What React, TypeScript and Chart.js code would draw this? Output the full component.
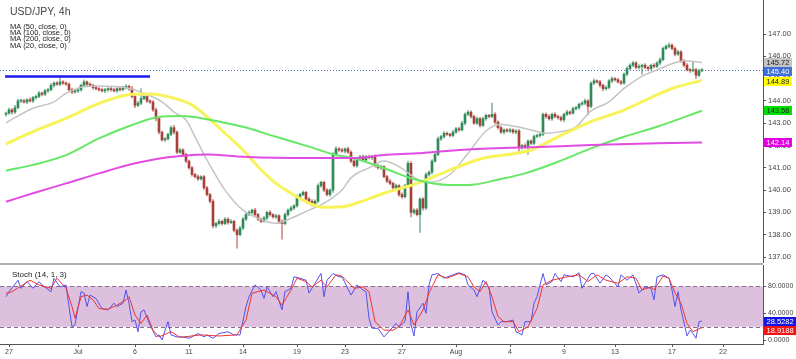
import React, { useEffect, useRef } from 'react';
import { Chart, registerables } from 'chart.js';

Chart.register(...registerables);

const FONT = '"Liberation Sans", Arial, sans-serif';

// ---------- text ----------
const titleText = 'USD/JPY, 4h';
const maLegend = ['MA (50, close, 0)', 'MA (100, close, 0)', 'MA (200, close, 0)', 'MA (20, close, 0)'];
const stochLegend = 'Stoch (14, 1, 3)';

// ---------- candles (4h), index = candle number ----------
const firstOpen = 143.4;
const closes = [
  143.45, 143.6, 143.5, 143.7, 144.0, 144.0, 143.95, 144.05, 144.0, 144.15,
  144.2, 144.35, 144.3, 144.45, 144.5, 144.7, 144.8, 144.75, 144.85, 144.8,
  144.75, 144.5, 144.4, 144.45, 144.5, 144.7, 144.85, 144.75, 144.7, 144.6,
  144.55, 144.5, 144.45, 144.5, 144.55, 144.5, 144.45, 144.55, 144.5, 144.6,
  144.65, 144.55, 144.2, 143.8, 143.9, 144.1, 144.2, 144.0, 143.95, 143.6,
  143.2, 142.6, 142.25, 142.3, 142.5, 142.8, 142.6, 141.7, 141.8, 141.6,
  141.3, 141.0, 140.7, 140.6, 140.5, 140.6, 140.1, 139.8, 139.5, 138.4,
  138.5, 138.6, 138.5, 138.7, 138.55, 138.6, 138.2, 138.0, 138.3, 138.7,
  138.9, 139.0, 139.1, 138.9, 138.7, 138.6, 138.75, 139.0, 138.9, 138.8,
  138.85, 138.6, 138.5, 138.9, 139.1, 139.2, 139.3, 139.7, 139.8, 139.9,
  139.6, 139.5, 139.35, 139.5, 140.2, 140.35, 140.0, 139.8, 140.0, 141.6,
  141.85, 141.8, 141.75, 141.85, 141.7, 141.3, 141.1, 141.4, 141.5, 141.35,
  141.5, 141.45, 141.5, 141.1, 141.0, 141.05, 140.6, 140.4, 140.3, 140.1,
  140.2, 139.8, 139.7, 140.2, 141.2, 139.0, 139.1, 138.9, 139.6, 139.2,
  140.7, 140.8, 141.3, 141.6, 142.3, 142.4, 142.55, 142.5, 142.45, 142.6,
  142.75, 142.7, 143.0, 143.4, 143.5, 143.3, 143.0, 143.2, 142.9, 143.2,
  143.35, 143.3, 143.4, 143.05, 142.8, 142.6, 142.7, 142.65, 142.7, 142.6,
  142.65, 141.9, 142.0, 141.95, 142.2, 142.1, 142.4, 142.45, 142.5, 143.4,
  143.3, 143.2, 143.4, 143.3, 143.25, 143.15, 143.4, 143.5, 143.45, 143.65,
  143.7, 143.85, 143.9, 144.0, 143.75, 144.8, 144.9, 144.85, 144.7, 144.55,
  144.6, 144.9, 145.0, 144.95, 144.85, 144.8, 145.2, 145.45, 145.6, 145.7,
  145.5, 145.55, 145.6, 145.5, 145.45, 145.6, 145.55, 145.7, 145.85, 146.35,
  146.45, 146.5, 146.35, 146.1, 146.2, 145.8, 145.6, 145.4, 145.35, 145.4,
  145.15, 145.35, 145.4,
];
// wick lengths beyond the body, in hundredths of a yen
const wickUp = [
  5, 8, 6, 10, 8, 6, 7, 5, 9, 6,
  6, 8, 5, 7, 6, 8, 5, 7, 22, 6,
  5, 6, 8, 5, 7, 6, 9, 5, 6, 5,
  6, 5, 7, 6, 5, 8, 6, 5, 7, 6,
  8, 6, 10, 6, 8, 45, 6, 7, 5, 6,
  8, 6, 5, 7, 6, 8, 10, 6, 7, 5,
  6, 5, 7, 6, 8, 5, 6, 7, 5, 8,
  6, 9, 5, 7, 6, 8, 5, 6, 7, 8,
  6, 7, 5, 8, 6, 5, 7, 6, 8, 5,
  6, 5, 7, 8, 6, 7, 5, 8, 6, 7,
  5, 6, 7, 6, 8, 6, 5, 7, 6, 8,
  10, 6, 7, 5, 8, 6, 7, 5, 6, 8,
  6, 7, 5, 8, 6, 7, 5, 6, 8, 6,
  7, 5, 8, 6, 10, 8, 6, 7, 5, 6,
  8, 6, 7, 5, 8, 6, 7, 5, 6, 8,
  6, 7, 8, 6, 7, 5, 6, 8, 6, 7,
  6, 5, 50, 8, 6, 7, 5, 6, 8, 5,
  6, 8, 5, 7, 6, 5, 8, 6, 7, 5,
  6, 7, 5, 8, 6, 7, 5, 8, 6, 7,
  6, 5, 7, 8, 6, 6, 8, 5, 7, 6,
  8, 6, 7, 5, 6, 7, 5, 8, 6, 7,
  6, 8, 5, 7, 6, 5, 7, 6, 8, 6,
  7, 10, 6, 8, 7, 6, 5, 7, 6, 35,
  6, 8, 6,
];
const wickDown = [
  8, 6, 10, 7, 6, 8, 5, 7, 6, 8,
  7, 5, 8, 6, 7, 5, 8, 6, 7, 6,
  6, 8, 7, 5, 8, 6, 5, 7, 6, 8,
  7, 6, 5, 8, 7, 6, 5, 7, 6, 5,
  6, 8, 7, 10, 6, 7, 5, 8, 6, 7,
  10, 8, 6, 7, 5, 6, 8, 7, 6, 8,
  7, 6, 8, 5, 7, 6, 8, 6, 7, 10,
  8, 6, 7, 5, 8, 6, 7, 60, 6, 8,
  7, 5, 8, 6, 7, 6, 5, 8, 7, 6,
  8, 10, 70, 6, 7, 5, 8, 6, 7, 5,
  6, 8, 7, 5, 6, 8, 7, 6, 8, 10,
  6, 7, 5, 8, 6, 7, 6, 8, 5, 7,
  6, 5, 8, 7, 6, 8, 5, 7, 6, 8,
  6, 8, 7, 5, 6, 20, 8, 6, 80, 10,
  8, 6, 7, 5, 6, 8, 7, 5, 6, 7,
  6, 7, 5, 8, 6, 7, 5, 6, 8, 6,
  7, 6, 5, 8, 7, 6, 8, 5, 7, 6,
  8, 25, 6, 8, 35, 6, 7, 5, 8, 6,
  7, 6, 8, 5, 7, 6, 8, 6, 7, 5,
  6, 8, 5, 7, 38, 6, 7, 5, 8, 10,
  7, 6, 8, 6, 5, 7, 6, 8, 5, 7,
  6, 7, 35, 6, 8, 5, 7, 6, 8, 6,
  5, 7, 6, 8, 6, 7, 8, 6, 7, 5,
  15, 6, 5,
];

// ---------- moving averages (candle index, price) ----------
const ma20X = [0, 9, 16, 20, 26, 31, 40, 46, 52, 56, 60, 63, 67, 73, 79, 84, 90, 95, 101, 106, 112, 115, 121, 126, 131, 137, 141, 148, 154, 160, 165, 170, 175, 180, 184, 190, 195, 201, 206, 212, 217, 223, 226, 232];
const ma20Y = [143.02, 143.67, 143.96, 144.34, 144.64, 144.67, 144.59, 144.34, 143.96, 143.5, 143.14, 142.39, 141.35, 140.0, 139.1, 138.74, 138.51, 138.74, 139.1, 139.41, 140.0, 140.55, 141.0, 141.3, 141.05, 140.5, 140.35, 140.7, 141.65, 142.65, 142.95, 142.85, 142.7, 142.55, 142.6, 142.84, 143.55, 143.96, 144.56, 145.1, 145.39, 145.71, 145.8, 145.72];
const ma50X = [0, 9, 20, 31, 37, 42, 48, 56, 62, 67, 73, 79, 84, 90, 95, 101, 106, 112, 116, 126, 137, 148, 159, 170, 175, 184, 195, 206, 215, 223, 232];
const ma50Y = [142.07, 142.62, 143.22, 143.89, 144.16, 144.3, 144.31, 144.12, 143.82, 143.29, 142.55, 141.8, 141.05, 140.3, 139.86, 139.41, 139.23, 139.25, 139.38, 139.86, 140.3, 140.9, 141.43, 141.65, 141.8, 142.39, 143.07, 143.59, 144.15, 144.6, 144.92];
const ma100X = [0, 9, 20, 31, 42, 50, 58, 62, 67, 79, 90, 101, 110, 116, 126, 137, 148, 154, 165, 173, 184, 195, 206, 217, 232];
const ma100Y = [140.87, 141.13, 141.57, 142.32, 142.92, 143.26, 143.32, 143.29, 143.18, 142.84, 142.39, 141.95, 141.57, 141.43, 140.98, 140.45, 140.23, 140.23, 140.5, 140.75, 141.27, 141.87, 142.39, 142.84, 143.56];
const ma200X = [0, 9, 20, 31, 42, 54, 58, 67, 79, 90, 101, 116, 126, 137, 148, 159, 175, 195, 217, 232];
const ma200Y = [139.48, 139.86, 140.3, 140.75, 141.17, 141.47, 141.53, 141.6, 141.5, 141.45, 141.44, 141.44, 141.57, 141.65, 141.77, 141.86, 141.92, 142.02, 142.1, 142.14];

// drawn horizontal level (blue) and last price
const levelPrice = 145.09;
const levelFrom = -0.3;
const levelTo = 48;
const lastPrice = 145.4;

// ---------- stochastic (candle index, value) ----------
const stochKX = [0, 1, 4, 5, 7, 9, 11, 12, 15, 16, 18, 20, 21, 22, 23, 25, 26, 27, 28, 30, 32, 34, 36, 37, 39, 40, 41, 42, 43, 44, 45, 46, 48, 50, 51, 52, 54, 55, 57, 59, 61, 64, 66, 67, 69, 71, 74, 76, 78, 80, 81, 83, 85, 86, 87, 89, 90, 92, 93, 95, 96, 98, 100, 101, 103, 105, 106, 107, 109, 111, 112, 115, 117, 119, 120, 121, 122, 124, 126, 128, 130, 131, 133, 134, 135, 136, 137, 139, 140, 141, 142, 144, 146, 149, 151, 153, 154, 156, 157, 159, 161, 162, 164, 165, 167, 169, 170, 172, 173, 175, 176, 177, 179, 180, 182, 183, 185, 186, 189, 191, 192, 195, 196, 198, 200, 201, 204, 205, 207, 209, 211, 213, 215, 216, 217, 219, 221, 222, 223, 224, 225, 227, 228, 229, 230, 231, 232];
const stochKY = [64.6, 72, 89, 77, 87, 77, 87, 82, 72, 92, 79, 82, 50, 20, 23, 72, 70, 50, 67, 62, 47, 45, 55, 50, 55, 74.5, 55, 27.6, 30, 12.7, 42, 45, 22.7, 5, 8, 0.5, 27.6, 8, 5, 5, 3, 10, 5, 8, 3, 10, 12.7, 8, 8, 50, 64.6, 82, 74.5, 62, 79, 64.6, 72, 45, 72, 77, 94, 92, 89, 70, 84.5, 99, 64.6, 89, 99, 94, 94, 67, 82, 74.5, 72, 32.6, 17.8, 17.8, 5, 15, 25, 20, 27.6, 72, 22.7, 6.4, 42, 55, 40, 82, 97, 99, 92, 97, 100, 97, 82, 74.5, 64.6, 89, 79, 42, 22.7, 27.6, 27.6, 30, 12.7, 8, 27.6, 27.6, 55, 64.6, 99, 82, 87, 99, 87, 97, 94, 100, 77, 99, 99, 84.5, 97, 94, 79, 97, 89, 97, 70, 79, 77, 60, 94, 97, 92, 74.5, 50, 72, 45, 6.4, 15, 10, 3, 27.6, 28.53];
const stochDX = [0, 2, 8, 11, 15, 17, 20, 22, 23, 25, 27, 29, 31, 34, 37, 40, 41, 43, 45, 47, 49, 51, 55, 58, 65, 71, 77, 80, 82, 86, 90, 92, 95, 97, 100, 102, 105, 107, 110, 112, 116, 119, 121, 123, 126, 129, 131, 134, 136, 139, 141, 144, 147, 151, 154, 156, 158, 160, 162, 164, 166, 169, 171, 174, 177, 179, 182, 187, 191, 194, 197, 200, 204, 207, 210, 212, 215, 216, 219, 221, 223, 225, 227, 229, 232];
const stochDY = [69.6, 72, 89, 82, 77, 92, 77, 50, 32.6, 64.6, 67, 60, 47, 46, 52, 60, 64.6, 37.5, 25, 37.5, 15, 5, 12.7, 4.4, 8, 6.4, 8, 30, 69.6, 74.5, 64.6, 52, 74.5, 92, 87, 79, 89, 79, 97, 95, 77, 79, 72, 27.6, 15, 15, 20, 45, 22.7, 45, 70, 97, 92, 99, 94, 79, 72, 87, 64.6, 35, 27.6, 27.6, 12.7, 20, 47, 82, 89, 94, 97, 87, 97, 89, 84.5, 94, 92, 74.5, 79, 74.5, 95, 92, 70, 55, 25, 12.7, 18.92];

// ---------- axes ----------
const priceTicks = [137, 138, 139, 140, 141, 142, 143, 144, 145, 146, 147];
const priceMin = 136.731;
const priceMax = 148.525;
const stochTicks = [0, 40, 80];
const stochBandLow = 20;
const stochBandHigh = 80;
const stochMin = -5.48;
const stochMax = 111.56;
const dateTickIdx = [1, 24, 43, 61, 79, 97, 113, 132, 150, 168, 186, 203, 222, 239];
const dateTickLabels = ['27', 'Jul', '6', '11', '14', '19', '23', '27', 'Aug', '4', '9', '13', '17', '22'];
const xMin = -2;
const xMax = 252.3333;

// last-value tags
const priceTagValues = [145.72, 145.4, 144.89, 143.56, 142.14];
const priceTagTexts = ['145.72', '145.40', '144.89', '143.56', '142.14'];
const stochTagValues = [28.5282, 18.9188];
const stochTagTexts = ['28.5282', '18.9188'];

const priceTagStyle = [
  { bg: '#c4c4c4', fg: '#222' },
  { bg: '#3f6fd6', fg: '#fff' },
  { bg: '#ffff00', fg: '#222' },
  { bg: '#00e000', fg: '#222' },
  { bg: '#e000e0', fg: '#fff' },
];
const stochTagStyle = [
  { bg: '#1414e6', fg: '#fff' },
  { bg: '#f01414', fg: '#fff' },
];

const TAG_H = 9;

const pts = (xs: number[], ys: number[]) => xs.map((x, i) => ({ x, y: ys[i] }));

function drawTag(ctx: CanvasRenderingContext2D, x: number, y: number, text: string, bg: string, fg: string) {
  ctx.font = `7.5px ${FONT}`;
  const w = ctx.measureText(text).width + 5;
  ctx.fillStyle = bg;
  ctx.fillRect(x, Math.round(y - TAG_H / 2), w, TAG_H);
  ctx.fillStyle = fg;
  ctx.textBaseline = 'middle';
  ctx.textAlign = 'left';
  ctx.fillText(text, x + 2.5, y + 0.5);
}

// stack tags top-down so they do not overlap
function drawTags(ctx: CanvasRenderingContext2D, x: number, ys: number[], texts: string[], styles: { bg: string; fg: string }[]) {
  let prev = -Infinity;
  ys.forEach((y0, k) => {
    const y = Math.max(y0, prev + TAG_H);
    prev = y;
    drawTag(ctx, x, y, texts[k], styles[k].bg, styles[k].fg);
  });
}

const AXIS_W = 33;

export default function App() {
  const mainRef = useRef<HTMLCanvasElement>(null);
  const stochRef = useRef<HTMLCanvasElement>(null);

  useEffect(() => {
    document.body.style.margin = '0';
    const opens = closes.map((c, i) => (i === 0 ? firstOpen : closes[i - 1]));
    const highs = closes.map((c, i) => Math.max(opens[i], c) + wickUp[i] / 100);
    const lows = closes.map((c, i) => Math.min(opens[i], c) - wickDown[i] / 100);
    const up = closes.map((c, i) => c >= opens[i]);
    const bodyColors = up.map((u) => (u ? '#2f8a58' : '#a8403a'));
    const wickColors = up.map((u) => (u ? 'rgba(47,138,88,0.6)' : 'rgba(168,64,58,0.6)'));
    const bodies = closes.map((c, i) => ({ x: i, y: [opens[i], c] }));
    const wicks = closes.map((c, i) => ({ x: i, y: [lows[i], highs[i]] }));

    const mainOverlay = {
      id: 'mainOverlay',
      beforeDatasetsDraw(chart: any) {
        const { ctx, chartArea, scales } = chart;
        const y = Math.round(scales.y.getPixelForValue(lastPrice)) + 0.5;
        ctx.save();
        ctx.strokeStyle = '#5577c0';
        ctx.lineWidth = 1;
        ctx.setLineDash([1, 2]);
        ctx.beginPath();
        ctx.moveTo(chartArea.left, y);
        ctx.lineTo(chartArea.right, y);
        ctx.stroke();
        ctx.restore();
      },
      afterDraw(chart: any) {
        const { ctx, chartArea, scales } = chart;
        ctx.save();
        ctx.fillStyle = '#444';
        ctx.textAlign = 'left';
        ctx.textBaseline = 'alphabetic';
        ctx.font = `10.5px ${FONT}`;
        ctx.fillText(titleText, 10, 15);
        ctx.fillStyle = '#222';
        ctx.font = `7.5px ${FONT}`;
        maLegend.forEach((t, k) => ctx.fillText(t, 10, 29 + k * 6.2));
        drawTags(
          ctx,
          chartArea.right + 1,
          priceTagValues.map((v) => scales.y.getPixelForValue(v)),
          priceTagTexts,
          priceTagStyle,
        );
        ctx.restore();
      },
    };

    const lineDs = (data: any[], color: string, width: number) => ({
      type: 'line',
      data,
      borderColor: color,
      borderWidth: width,
      pointRadius: 0,
      cubicInterpolationMode: 'monotone',
      fill: false,
      order: 1,
    });

    const main = new Chart(mainRef.current!, {
      type: 'bar',
      data: {
        datasets: [
          lineDs(pts(ma200X, ma200Y), '#e24ce2', 2),
          lineDs(pts(ma100X, ma100Y), '#66e866', 2),
          lineDs(pts(ma50X, ma50Y), '#f7f35a', 3),
          lineDs(pts(ma20X, ma20Y), '#c4c4c4', 1.5),
          {
            type: 'line',
            data: [{ x: levelFrom, y: levelPrice }, { x: levelTo, y: levelPrice }],
            borderColor: '#1a1af0',
            borderWidth: 2.5,
            pointRadius: 0,
            order: 0,
          },
          {
            type: 'bar',
            data: bodies,
            backgroundColor: bodyColors,
            barThickness: 2,
            grouped: false,
            minBarLength: 1,
            order: 9,
          },
          {
            type: 'bar',
            data: wicks,
            backgroundColor: wickColors,
            barThickness: 1,
            grouped: false,
            order: 10,
          },
        ] as any,
      },
      options: {
        responsive: false,
        animation: false,
        devicePixelRatio: 1,
        layout: { padding: 0 },
        plugins: { legend: { display: false }, tooltip: { enabled: false } },
        scales: {
          x: { type: 'linear', min: xMin, max: xMax, display: false, offset: false },
          y: {
            type: 'linear',
            position: 'right',
            min: priceMin,
            max: priceMax,
            beginAtZero: false,
            afterBuildTicks: (s: any) => {
              s.ticks = priceTicks.map((v) => ({ value: v }));
            },
            afterFit: (s: any) => {
              s.width = AXIS_W;
              s.paddingTop = 0;
              s.paddingBottom = 0;
            },
            ticks: {
              callback: (v: any) => Number(v).toFixed(2),
              font: { size: 7.5, family: FONT },
              color: '#444',
              padding: 2,
            },
            grid: { display: true, drawOnChartArea: false, drawTicks: true, tickLength: 3, color: '#555' },
            border: { display: true, color: '#555', width: 1 },
          },
        },
      } as any,
      plugins: [mainOverlay],
    });

    const stochOverlay = {
      id: 'stochOverlay',
      beforeDatasetsDraw(chart: any) {
        const { ctx, chartArea, scales } = chart;
        const yHi = scales.y.getPixelForValue(stochBandHigh);
        const yLo = scales.y.getPixelForValue(stochBandLow);
        ctx.save();
        ctx.fillStyle = '#dcc0dd';
        ctx.fillRect(chartArea.left, yHi, chartArea.right - chartArea.left, yLo - yHi);
        ctx.strokeStyle = '#8a6e8c';
        ctx.lineWidth = 1;
        ctx.setLineDash([4, 3]);
        [yHi, yLo].forEach((yy) => {
          const py = Math.round(yy) + 0.5;
          ctx.beginPath();
          ctx.moveTo(chartArea.left, py);
          ctx.lineTo(chartArea.right, py);
          ctx.stroke();
        });
        ctx.restore();
      },
      afterDraw(chart: any) {
        const { ctx, chartArea, scales } = chart;
        ctx.save();
        ctx.fillStyle = '#b0b0b0';
        ctx.fillRect(0, 0, chartArea.right, 2);
        ctx.fillStyle = '#222';
        ctx.font = `8px ${FONT}`;
        ctx.textAlign = 'left';
        ctx.textBaseline = 'alphabetic';
        ctx.fillText(stochLegend, 12, 14);
        drawTags(
          ctx,
          chartArea.right + 1,
          stochTagValues.map((v) => scales.y.getPixelForValue(v)),
          stochTagTexts,
          stochTagStyle,
        );
        ctx.restore();
      },
    };

    const stoch = new Chart(stochRef.current!, {
      type: 'line',
      data: {
        datasets: [
          {
            data: pts(stochDX, stochDY),
            borderColor: '#ee3434',
            borderWidth: 1,
            pointRadius: 0,
            tension: 0,
          },
          {
            data: pts(stochKX, stochKY),
            borderColor: '#5252ee',
            borderWidth: 1,
            pointRadius: 0,
            tension: 0,
          },
        ],
      },
      options: {
        responsive: false,
        animation: false,
        devicePixelRatio: 1,
        layout: { padding: { top: 2, left: 0, right: 0, bottom: 0 } },
        plugins: { legend: { display: false }, tooltip: { enabled: false } },
        scales: {
          x: {
            type: 'linear',
            position: 'bottom',
            min: xMin,
            max: xMax,
            offset: false,
            afterBuildTicks: (s: any) => {
              s.ticks = dateTickIdx.map((v) => ({ value: v }));
            },
            afterFit: (s: any) => {
              s.height = 15;
              s.paddingLeft = 0;
              s.paddingRight = 0;
            },
            ticks: {
              autoSkip: false,
              maxRotation: 0,
              minRotation: 0,
              callback: (_v: any, i: number) => dateTickLabels[i],
              font: { size: 7, family: FONT },
              color: '#444',
              padding: 1,
            },
            grid: { display: true, drawOnChartArea: false, drawTicks: true, tickLength: 3, color: '#555' },
            border: { display: true, color: '#555', width: 1 },
          },
          y: {
            type: 'linear',
            position: 'right',
            min: stochMin,
            max: stochMax,
            afterBuildTicks: (s: any) => {
              s.ticks = stochTicks.map((v) => ({ value: v }));
            },
            afterFit: (s: any) => {
              s.width = AXIS_W;
              s.paddingTop = 0;
              s.paddingBottom = 0;
            },
            ticks: {
              callback: (v: any) => Number(v).toFixed(4),
              font: { size: 7, family: FONT },
              color: '#444',
              padding: 2,
            },
            grid: { display: true, drawOnChartArea: false, drawTicks: true, tickLength: 3, color: '#555' },
            border: { display: true, color: '#555', width: 1 },
          },
        },
      } as any,
      plugins: [stochOverlay],
    });

    return () => {
      main.destroy();
      stoch.destroy();
    };
  }, []);

  return (
    <div style={{ position: 'absolute', left: 0, top: 0, width: 796, height: 359, background: '#fff' }}>
      <canvas ref={mainRef} width={796} height={263} style={{ position: 'absolute', left: 0, top: 0 }} />
      <canvas ref={stochRef} width={796} height={96} style={{ position: 'absolute', left: 0, top: 263 }} />
    </div>
  );
}
